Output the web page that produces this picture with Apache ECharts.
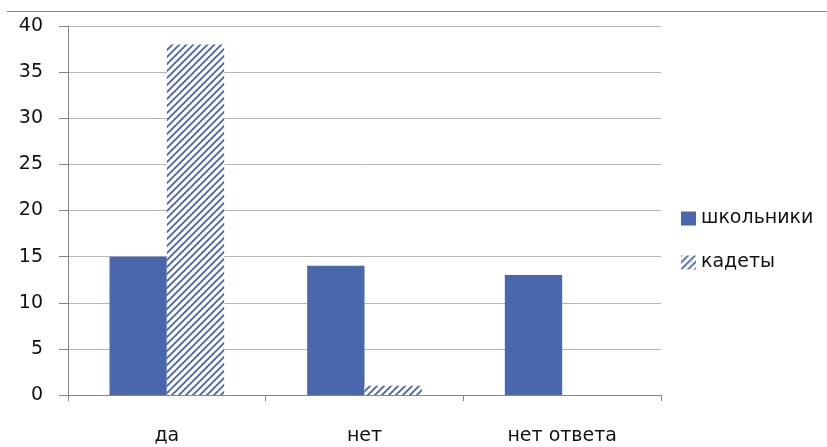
<!DOCTYPE html>
<html><head><meta charset="utf-8">
<script src="https://cdn.jsdelivr.net/npm/echarts@6/dist/echarts.min.js"></script>
<style>html,body{margin:0;padding:0;background:#fff}#c{width:827px;height:447px}</style>
</head><body><div id="c"></div>
<script>
const categories = ['да', 'нет', 'нет ответа'];
const seriesNames = ['школьники', 'кадеты'];
const schoolValues = [15, 14, 13];
const cadetValues = [38, 1, 0];
const yTicks = { min: 0, max: 40, interval: 5 };

const blue = '#4a66ad';
function hatch() {
  const s = 7;
  const cv = document.createElement('canvas');
  cv.width = s; cv.height = s;
  const ctx = cv.getContext('2d');
  ctx.fillStyle = '#fff'; ctx.fillRect(0, 0, s, s);
  ctx.strokeStyle = blue; ctx.lineWidth = 1.9;
  ctx.beginPath();
  ctx.moveTo(-1, s + 1); ctx.lineTo(s + 1, -1);
  ctx.moveTo(-2, 2); ctx.lineTo(2, -2);
  ctx.moveTo(s - 2, s + 2); ctx.lineTo(s + 2, s - 2);
  ctx.stroke();
  return { image: cv, repeat: 'repeat' };
}
const pattern = hatch();
const font = 'DejaVu Sans';
const chart = echarts.init(document.getElementById('c'), null, { renderer: 'canvas' });
chart.setOption({
  animation: false,
  textStyle: { fontFamily: font },
  grid: { left: 68, right: 166, top: 26, bottom: 52, containLabel: false },
  graphic: [{ type: 'line', shape: { x1: 7, y1: 11.5, x2: 827, y2: 11.5 }, style: { stroke: '#8a8a8a', lineWidth: 1 } }],
  legend: {
    orient: 'vertical', left: 676, top: 204, itemGap: 25, itemWidth: 15, itemHeight: 14,
    textStyle: { fontSize: 19, color: '#111', fontFamily: font },
    data: [{ name: seriesNames[0], icon: 'rect' }, { name: seriesNames[1], icon: 'rect' }]
  },
  xAxis: {
    type: 'category', data: categories,
    axisLine: { lineStyle: { color: '#868686' } },
    axisTick: { show: true, length: 6, lineStyle: { color: '#868686' } },
    axisLabel: { margin: 32, fontSize: 19, color: '#111', fontFamily: font }
  },
  yAxis: {
    type: 'value', min: yTicks.min, max: yTicks.max, interval: yTicks.interval,
    axisLine: { show: true, lineStyle: { color: '#868686' } },
    axisTick: { show: true, length: 9, lineStyle: { color: '#868686' } },
    axisLabel: { margin: 25, fontSize: 19, color: '#111', fontFamily: font },
    splitLine: { lineStyle: { color: '#b5b5b5' } }
  },
  series: [
    { name: seriesNames[0], type: 'bar', data: schoolValues, barGap: '0%', barCategoryGap: '42%',
      itemStyle: { color: blue } },
    { name: seriesNames[1], type: 'bar', data: cadetValues,
      itemStyle: { color: pattern } }
  ]
});
</script></body></html>
